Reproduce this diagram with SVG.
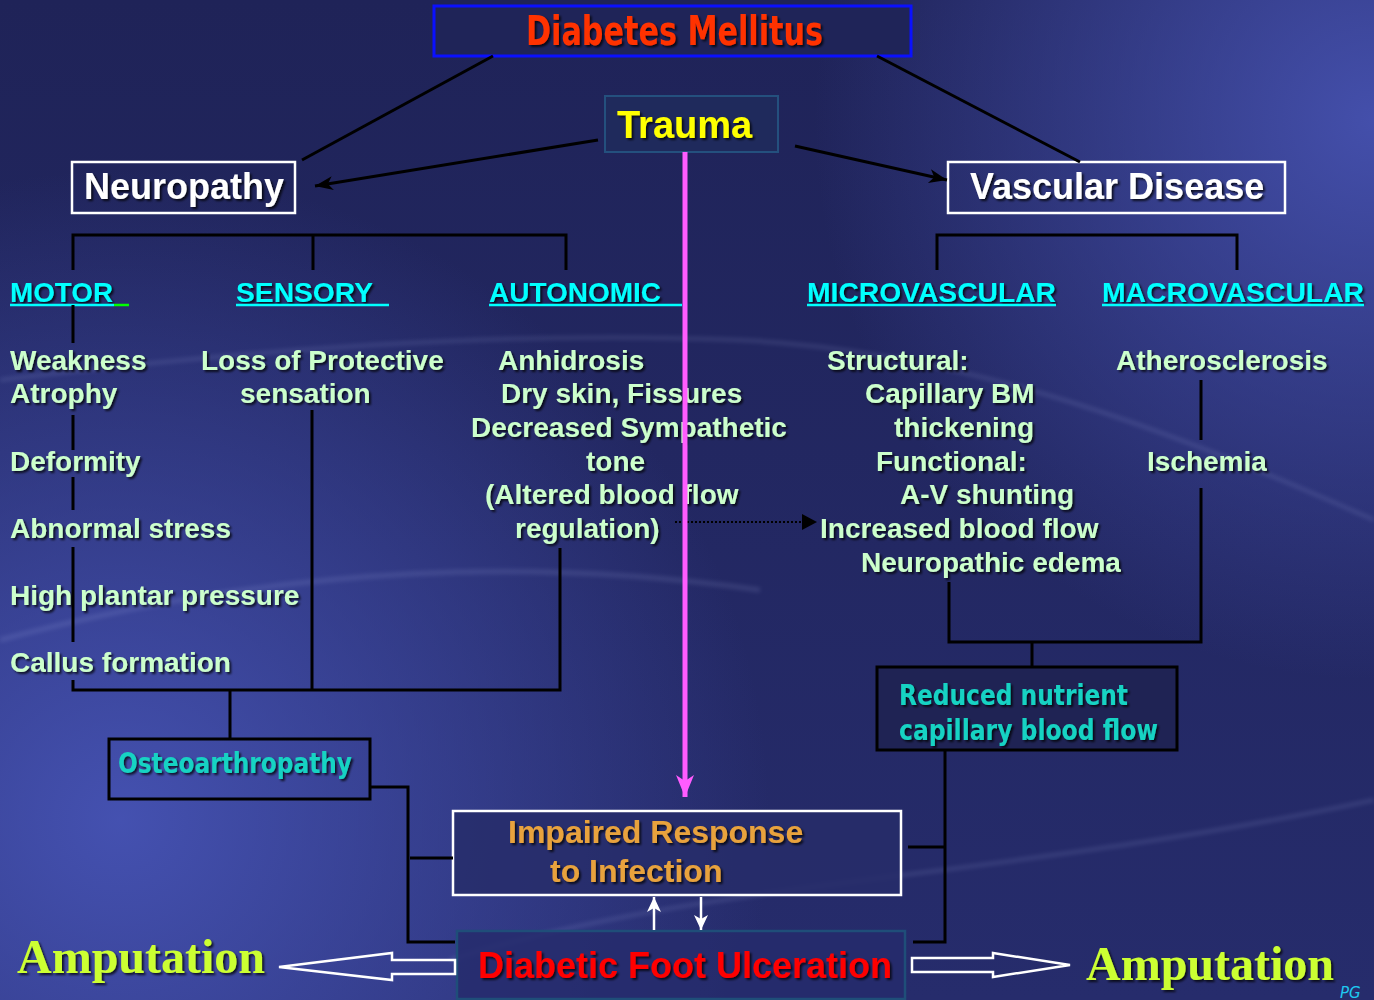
<svg xmlns="http://www.w3.org/2000/svg" width="1374" height="1000" viewBox="0 0 1374 1000">
<defs>
<linearGradient id="bg" x1="0" y1="0" x2="0" y2="1">
<stop offset="0" stop-color="#1f2358"/>
<stop offset="1" stop-color="#262c6c"/>
</linearGradient>
<radialGradient id="glowBL" cx="120" cy="820" r="650" gradientUnits="userSpaceOnUse">
<stop offset="0" stop-color="#4653b4" stop-opacity="0.95"/>
<stop offset="1" stop-color="#4653b4" stop-opacity="0"/>
</radialGradient>
<radialGradient id="glowTR" cx="1374" cy="120" r="560" gradientUnits="userSpaceOnUse">
<stop offset="0" stop-color="#4854b4" stop-opacity="0.9"/>
<stop offset="1" stop-color="#4854b4" stop-opacity="0"/>
</radialGradient>
<filter id="sh" x="-10%" y="-30%" width="130%" height="170%">
<feDropShadow dx="2" dy="2" stdDeviation="1" flood-color="#000" flood-opacity="0.75"/>
</filter>
<filter id="blur"><feGaussianBlur stdDeviation="2"/></filter>
<marker id="ahBlack" markerUnits="userSpaceOnUse" markerWidth="20" markerHeight="20" viewBox="0 0 20 20" refX="18" refY="10" orient="auto">
<path d="M0,3 L18,10 L0,17 L5,10 Z" fill="#000"/>
</marker>
<marker id="ahPink" markerUnits="userSpaceOnUse" markerWidth="24" markerHeight="24" viewBox="0 0 24 24" refX="22" refY="12" orient="auto">
<path d="M0,3 L22,12 L0,21 L6,12 Z" fill="#ff5cff"/>
</marker>
<marker id="ahWhite" markerUnits="userSpaceOnUse" markerWidth="16" markerHeight="16" viewBox="0 0 16 16" refX="15" refY="8" orient="auto">
<path d="M0,1 L15,8 L0,15 L4,8 Z" fill="#fff"/>
</marker>
<style>
.t{font-family:"Liberation Sans",Arial,sans-serif;font-weight:bold;filter:url(#sh)}
.h{font-size:28px;fill:#00ffff}
.b{font-size:28px;fill:#ccffcc}
.n{font-family:"DejaVu Sans Condensed","Liberation Sans",sans-serif;font-weight:bold;filter:url(#sh)}
.amp{font-family:"Liberation Serif","Times New Roman",serif;font-weight:bold;font-size:48px;fill:#ccff33;filter:url(#sh)}
.ln{stroke:#000;stroke-width:3;fill:none}
.ul{stroke:#00ffff;stroke-width:2.5}
</style>
</defs>

<rect width="1374" height="1000" fill="url(#bg)"/>
<rect width="1374" height="1000" fill="url(#glowBL)"/>
<rect width="1374" height="1000" fill="url(#glowTR)"/>
<g opacity="0.12" fill="none" stroke="#c8d0ff" filter="url(#blur)">
<path d="M0,380 C250,350 500,330 740,340 C950,350 1150,420 1374,520" stroke-width="4"/>
<path d="M0,640 C300,560 550,560 760,590" stroke-width="5"/>
<path d="M450,960 C700,880 1000,880 1374,800" stroke-width="4"/>
</g>

<g id="diabetes-mellitus">
<rect x="434" y="6" width="477" height="50" fill="#1f2458" stroke="#0a10ff" stroke-width="3"/>
<text class="n" x="526" y="45" font-size="40" fill="#ff3300" textLength="297" lengthAdjust="spacingAndGlyphs">Diabetes Mellitus</text>
</g>

<g id="trauma">
<rect x="605" y="96" width="173" height="56" fill="#1f2a5c" stroke="#24507e" stroke-width="2"/>
<text class="t" x="617" y="138" font-size="38" fill="#ffff00">Trauma</text>
</g>

<g id="neuropathy">
<rect x="72" y="162" width="223" height="51" fill="none" stroke="#fff" stroke-width="2.5"/>
<text class="t" x="84" y="199" font-size="36" fill="#fff">Neuropathy</text>
</g>

<g id="vascular-disease">
<rect x="948" y="162" width="337" height="51" fill="none" stroke="#fff" stroke-width="2.5"/>
<text class="t" x="970" y="199" font-size="36" fill="#fff">Vascular Disease</text>
</g>

<g id="motor">
<text class="t h" x="10" y="302" textLength="103" lengthAdjust="spacingAndGlyphs">MOTOR</text>
<line class="ul" x1="10" y1="305" x2="114" y2="305"/>
<line x1="114" y1="305" x2="129" y2="305" stroke="#00ff00" stroke-width="2.5"/>
<text class="t b" x="10" y="370">Weakness</text>
<text class="t b" x="10" y="403">Atrophy</text>
<text class="t b" x="10" y="471">Deformity</text>
<text class="t b" x="10" y="538">Abnormal stress</text>
<text class="t b" x="10" y="605">High plantar pressure</text>
<text class="t b" x="10" y="672">Callus formation</text>
</g>

<g id="sensory">
<text class="t h" x="236" y="302" textLength="137" lengthAdjust="spacingAndGlyphs">SENSORY</text>
<line class="ul" x1="236" y1="305" x2="389" y2="305"/>
<text class="t b" x="201" y="370">Loss of Protective</text>
<text class="t b" x="240" y="403">sensation</text>
</g>

<g id="autonomic">
<text class="t h" x="489" y="302" textLength="172" lengthAdjust="spacingAndGlyphs">AUTONOMIC</text>
<line class="ul" x1="489" y1="305" x2="682" y2="305"/>
<text class="t b" x="498" y="370">Anhidrosis</text>
<text class="t b" x="501" y="403">Dry skin, Fissures</text>
<text class="t b" x="471" y="437">Decreased Sympathetic</text>
<text class="t b" x="586" y="471">tone</text>
<text class="t b" x="485" y="504">(Altered blood flow</text>
<text class="t b" x="515" y="538">regulation)</text>
</g>

<g id="microvascular">
<text class="t h" x="807" y="302" textLength="249" lengthAdjust="spacingAndGlyphs">MICROVASCULAR</text>
<line class="ul" x1="807" y1="305" x2="1056" y2="305"/>
<text class="t b" x="827" y="370">Structural:</text>
<text class="t b" x="865" y="403">Capillary BM</text>
<text class="t b" x="894" y="437">thickening</text>
<text class="t b" x="876" y="471">Functional:</text>
<text class="t b" x="900" y="504">A-V shunting</text>
<text class="t b" x="820" y="538">Increased blood flow</text>
<text class="t b" x="861" y="572">Neuropathic edema</text>
</g>

<g id="macrovascular">
<text class="t h" x="1102" y="302" textLength="262" lengthAdjust="spacingAndGlyphs">MACROVASCULAR</text>
<line class="ul" x1="1102" y1="305" x2="1364" y2="305"/>
<text class="t b" x="1116" y="370">Atherosclerosis</text>
<text class="t b" x="1147" y="471">Ischemia</text>
</g>

<g id="osteoarthropathy">
<rect x="109" y="739" width="261" height="60" fill="none" stroke="#000" stroke-width="3"/>
<text class="n" x="118" y="773" font-size="28" fill="#19d3c3" textLength="234" lengthAdjust="spacingAndGlyphs">Osteoarthropathy</text>
</g>

<g id="reduced-nutrient">
<rect x="877" y="667" width="300" height="83" fill="#1f2354" stroke="#000" stroke-width="3"/>
<text class="n" x="899" y="705" font-size="28" fill="#19d3c3" textLength="229" lengthAdjust="spacingAndGlyphs">Reduced nutrient</text>
<text class="n" x="899" y="740" font-size="28" fill="#19d3c3" textLength="259" lengthAdjust="spacingAndGlyphs">capillary blood flow</text>
</g>

<g id="impaired-response">
<rect x="453" y="811" width="448" height="84" fill="#272d6a" fill-opacity="0.85" stroke="#fff" stroke-width="2.5"/>
<text class="t" x="508" y="843" font-size="32" fill="#e8a23c">Impaired Response</text>
<text class="t" x="550" y="882" font-size="32" fill="#e8a23c">to Infection</text>
</g>

<g id="diabetic-foot-ulceration">
<rect x="457" y="931" width="448" height="68" fill="#262b6c" fill-opacity="0.85" stroke="#1f4e79" stroke-width="2.5"/>
<text class="t" x="478" y="978" font-size="36" fill="#ff0000">Diabetic Foot Ulceration</text>
</g>

<g id="amputation-left">
<text class="amp" x="17" y="973">Amputation</text>
</g>

<g id="amputation-right">
<text class="amp" x="1086" y="980">Amputation</text>
</g>

<g id="signature">
<text x="1340" y="998" font-family="DejaVu Sans" font-style="italic" font-size="15" fill="#1ec8f0">PG</text>
</g>

<g id="connectors">
<line class="ln" x1="493" y1="56" x2="302" y2="160"/>
<line class="ln" x1="877" y1="56" x2="1080" y2="162"/>
<line class="ln" x1="598" y1="140" x2="315" y2="186" marker-end="url(#ahBlack)"/>
<line class="ln" x1="795" y1="146" x2="947" y2="180" marker-end="url(#ahBlack)"/>

<polyline class="ln" points="73,270 73,235 566,235 566,270"/>
<line class="ln" x1="313" y1="235" x2="313" y2="270"/>
<line class="ln" x1="73" y1="305" x2="73" y2="343"/>
<line class="ln" x1="73" y1="415" x2="73" y2="450"/>
<line class="ln" x1="73" y1="477" x2="73" y2="510"/>
<line class="ln" x1="73" y1="547" x2="73" y2="642"/>
<polyline class="ln" points="73,680 73,690 560,690 560,548"/>
<line class="ln" x1="312" y1="410" x2="312" y2="690"/>
<line class="ln" x1="230" y1="690" x2="230" y2="739"/>

<polyline class="ln" points="937,270 937,235 1237,235 1237,270"/>
<line class="ln" x1="1201" y1="380" x2="1201" y2="440"/>
<polyline class="ln" points="949,582 949,642 1201,642 1201,488"/>
<line class="ln" x1="1032" y1="642" x2="1032" y2="667"/>

<polyline class="ln" points="370,787 408,787 408,942 455,942"/>
<line class="ln" x1="410" y1="858" x2="453" y2="858"/>
<polyline class="ln" points="945,750 945,942 913,942"/>
<line class="ln" x1="908" y1="847" x2="945" y2="847"/>

<line x1="675" y1="522" x2="803" y2="522" stroke="#000" stroke-width="2" stroke-dasharray="2,2"/>
<path d="M802,514 L817,522 L802,530 Z" fill="#000"/>

<line x1="654" y1="930" x2="654" y2="897" stroke="#fff" stroke-width="2.5" marker-end="url(#ahWhite)"/>
<line x1="701" y1="897" x2="701" y2="930" stroke="#fff" stroke-width="2.5" marker-end="url(#ahWhite)"/>

<path d="M455,960 L392,960 L392,953 L279,967 L392,980 L392,974 L455,974 Z" fill="none" stroke="#fff" stroke-width="2.5" stroke-linejoin="miter"/>
<path d="M912,958 L993,958 L993,953 L1070,965 L993,977 L993,972 L912,972 Z" fill="none" stroke="#fff" stroke-width="2.5" stroke-linejoin="miter"/>

<line x1="685" y1="152" x2="685" y2="797" stroke="#ff5cff" stroke-width="5" marker-end="url(#ahPink)"/>
</g>
</svg>
